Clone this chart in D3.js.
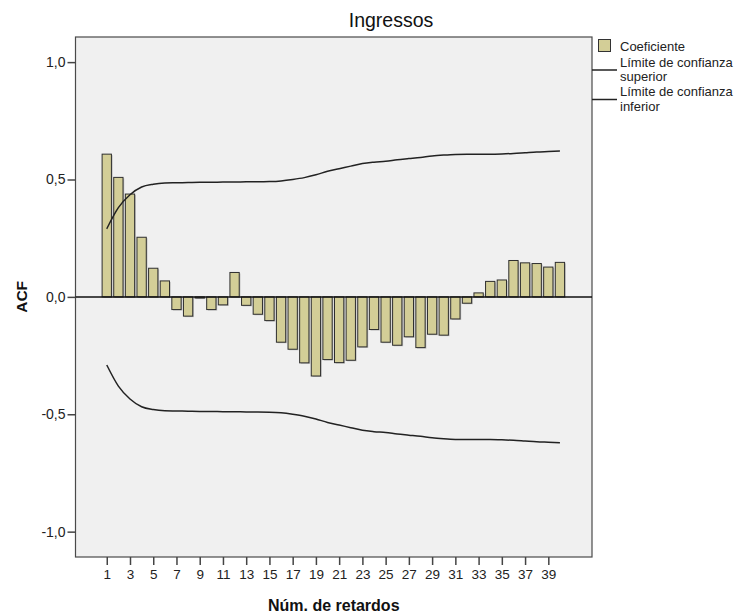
<!DOCTYPE html>
<html><head><meta charset="utf-8">
<script src="https://cdn.jsdelivr.net/npm/d3@7"></script>
<style>body{margin:0;background:#fff;} svg{display:block;font-family:"Liberation Sans",Arial,sans-serif;}</style>
</head><body><svg id="c" width="740" height="615"></svg>
<script>
const title = "Ingressos";
const lags = d3.range(1, 41);
const coef = [0.608,0.509,0.438,0.254,0.122,0.068,-0.054,-0.082,-0.005,-0.054,
  -0.034,0.104,-0.036,-0.074,-0.101,-0.193,-0.223,-0.281,-0.337,-0.267,
  -0.280,-0.270,-0.213,-0.139,-0.193,-0.206,-0.170,-0.216,-0.159,-0.163,
  -0.094,-0.027,0.017,0.066,0.072,0.155,0.145,0.142,0.127,0.147];
const upper = [0.290,0.380,0.435,0.468,0.480,0.485,0.486,0.487,0.488,0.488,
  0.489,0.489,0.490,0.490,0.491,0.494,0.500,0.508,0.520,0.535,
  0.546,0.557,0.568,0.574,0.578,0.584,0.589,0.594,0.600,0.604,
  0.607,0.608,0.608,0.608,0.609,0.611,0.614,0.617,0.619,0.621];
const lower = [-0.290,-0.380,-0.435,-0.468,-0.480,-0.485,-0.486,-0.487,-0.488,-0.488,
  -0.489,-0.489,-0.490,-0.490,-0.491,-0.494,-0.500,-0.508,-0.520,-0.535,
  -0.546,-0.557,-0.568,-0.574,-0.578,-0.584,-0.589,-0.594,-0.600,-0.604,
  -0.607,-0.608,-0.608,-0.608,-0.609,-0.611,-0.614,-0.617,-0.619,-0.621];
const xTickValues = d3.range(1, 40, 2);
const yTickValues = [-1, -0.5, 0, 0.5, 1];
const yTickLabels = ["-1,0", "-0,5", "0,0", "0,5", "1,0"];
const legendLabels = ["Coeficiente", ["Límite de confianza", "superior"], ["Límite de confianza", "inferior"]];
const xTitle = "Núm. de retardos";
const yTitle = "ACF";

const L = 75.5, R = 592, T = 37, B = 557;
const svg = d3.select("#c");
const x = d3.scaleLinear().domain([-1.69, 42.76]).range([L, R]);
const y = d3.scaleLinear().domain([-1.108, 1.107]).range([B, T]);

svg.append("rect").attr("x", L).attr("y", T).attr("width", R - L).attr("height", B - T)
  .attr("fill", "#f0f0f0").attr("stroke", "#4a4a4a").attr("stroke-width", 1.2);

const bw = 9.3;
const bars = svg.append("g");
bars.selectAll("rect.sh").data(lags).join("rect").attr("class","sh")
  .attr("x", d => x(d) - bw/2 + 1.2)
  .attr("y", (d,i) => Math.min(y(coef[i]), y(0)) + 1)
  .attr("width", bw)
  .attr("height", (d,i) => Math.abs(y(coef[i]) - y(0)))
  .attr("fill", "#9a9a9a").attr("opacity", 0.6);
bars.selectAll("rect.b").data(lags).join("rect").attr("class","b")
  .attr("x", d => x(d) - bw/2)
  .attr("y", (d,i) => Math.min(y(coef[i]), y(0)))
  .attr("width", bw)
  .attr("height", (d,i) => Math.abs(y(coef[i]) - y(0)))
  .attr("fill", "#d3ce97").attr("stroke", "#2e2e2e").attr("stroke-width", 1);

svg.append("line").attr("x1", L).attr("x2", R).attr("y1", y(0)).attr("y2", y(0))
  .attr("stroke", "#111").attr("stroke-width", 1.5);

const line = d3.line().x((d,i) => x(lags[i])).y(d => y(d)).curve(d3.curveMonotoneX);
svg.append("path").attr("d", line(upper)).attr("fill", "none").attr("stroke", "#222").attr("stroke-width", 1.5);
svg.append("path").attr("d", line(lower)).attr("fill", "none").attr("stroke", "#222").attr("stroke-width", 1.5);

// axes
const xAxis = d3.axisBottom(x).tickValues(xTickValues).tickSize(8).tickSizeOuter(0).tickPadding(4);
const gx = svg.append("g").attr("transform", `translate(0,${B})`).call(xAxis);
gx.select(".domain").remove();
gx.selectAll("line").attr("stroke", "#444").attr("stroke-width", 1.5);
gx.selectAll("text").attr("font-size", 13.5).attr("fill", "#222").attr("font-family", "Liberation Sans, Arial, sans-serif");

const yAxis = d3.axisLeft(y).tickValues(yTickValues).tickFormat((d,i) => yTickLabels[i]).tickSize(8).tickSizeOuter(0).tickPadding(2);
const gy = svg.append("g").attr("transform", `translate(${L},0)`).call(yAxis);
gy.select(".domain").remove();
gy.selectAll("line").attr("stroke", "#444").attr("stroke-width", 1.5);
gy.selectAll("text").attr("font-size", 14).attr("fill", "#222").attr("font-family", "Liberation Sans, Arial, sans-serif");

// titles
svg.append("text").attr("x", 391).attr("y", 27).attr("text-anchor", "middle")
  .attr("font-size", 19.5).attr("fill", "#111").text(title);
svg.append("text").attr("x", (L + R) / 2).attr("y", 611).attr("text-anchor", "middle")
  .attr("font-size", 16).attr("font-weight", "bold").attr("fill", "#111").text(xTitle);
svg.append("text").attr("transform", `translate(27,${y(0)}) rotate(-90)`).attr("text-anchor", "middle")
  .attr("font-size", 15.5).attr("font-weight", "bold").attr("fill", "#111").text(yTitle);

// legend
const lg = svg.append("g");
lg.append("rect").attr("x", 598.5).attr("y", 39.5).attr("width", 12).attr("height", 12)
  .attr("fill", "#d3ce97").attr("stroke", "#333").attr("stroke-width", 1);
lg.append("text").attr("x", 620).attr("y", 51).attr("font-size", 13).attr("fill", "#222").text(legendLabels[0]);
[[70, 66.5], [99.5, 96]].forEach((p, k) => {
  lg.append("line").attr("x1", R).attr("x2", 617).attr("y1", p[0]).attr("y2", p[0]).attr("stroke", "#222").attr("stroke-width", 1.5);
  const t = lg.append("text").attr("x", 620).attr("y", p[1]).attr("font-size", 13).attr("fill", "#222");
  t.append("tspan").attr("x", 620).text(legendLabels[k+1][0]);
  t.append("tspan").attr("x", 620).attr("dy", 14.5).text(legendLabels[k+1][1]);
});
</script></body></html>
